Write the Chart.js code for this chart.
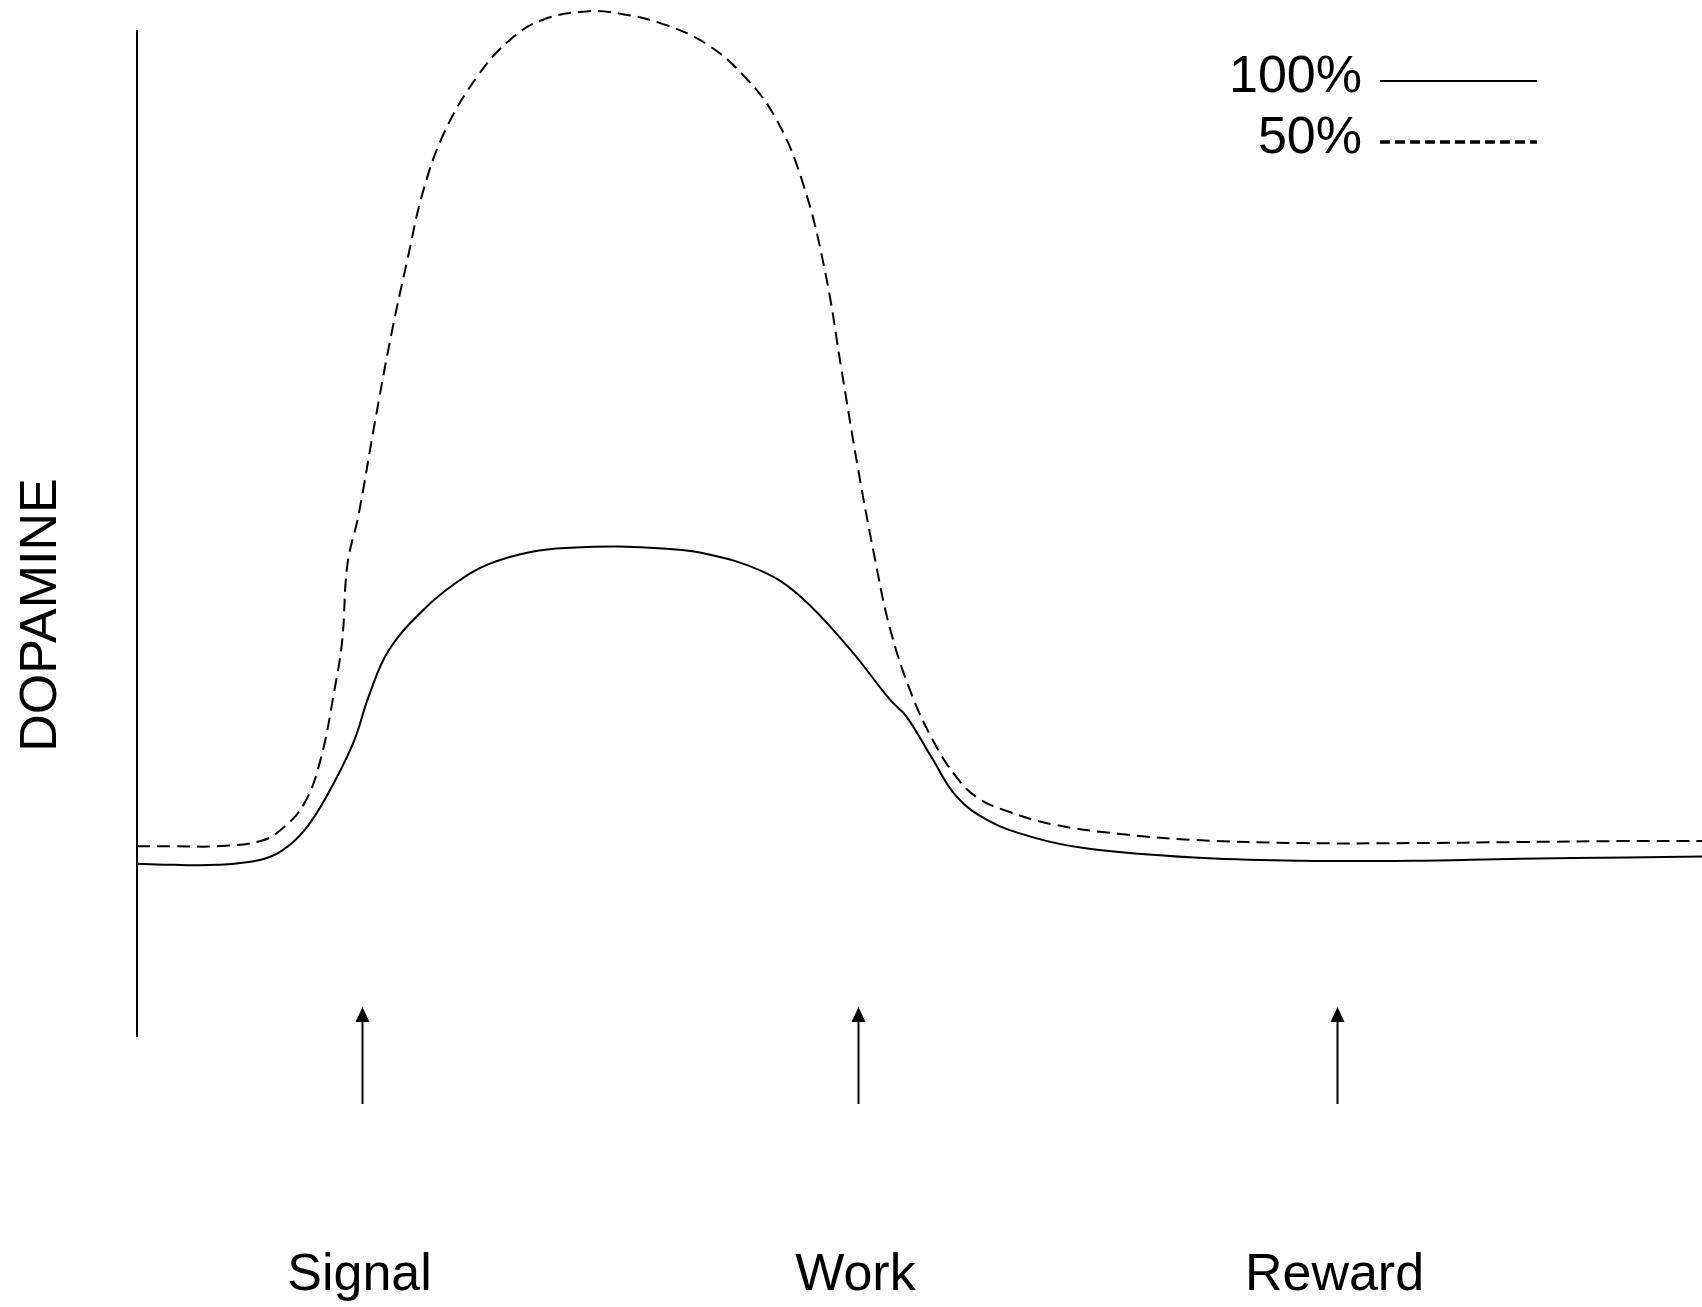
<!DOCTYPE html>
<html>
<head>
<meta charset="utf-8">
<script src="https://cdn.jsdelivr.net/npm/chart.js@4"></script>
<style>
  html, body { margin: 0; padding: 0; background: #fff; }
  #wrap { width: 1702px; height: 1307px; }
</style>
</head>
<body>
<div id="wrap"><canvas id="dopamineChart"></canvas></div>
<script>
// ----------------- data -----------------
const seriesNames = ["100%", "50%"];

// 100% reward probability (solid line)
const solidX = [0, 2.36, 5.13, 7.91, 9.29, 10.68, 12.07, 13.80, 14.84, 16.09, 18.31, 20.39, 22.47,
  25.24, 28.02, 30.79, 33.57, 36.34, 39.81, 42.3, 45.5, 48.13, 49.17, 50.76, 52.36,
  54.37, 57.14, 60.61, 67.55, 74.48, 81.41, 88.35, 95.28, 100];
const solidY = [16.7, 16.6, 16.6, 17.1, 18.0, 19.9, 23.1, 28.3, 33.0, 37.3, 41.2, 43.8, 45.6,
  46.8, 47.2, 47.3, 47.1, 46.6, 45.0, 42.6, 37.5, 32.5, 30.9, 27.0, 23.2,
  20.9, 19.3, 18.2, 17.3, 17.0, 17.0, 17.2, 17.3, 17.4];

// 50% reward probability (dashed line)
const dashX = [0, 2.36, 5.13, 7.91, 9.29, 10.68, 11.72, 12.62, 13.11, 13.45, 14.15, 15.19, 16.23, 17.27,
  18.31, 19.69, 21.78, 23.86, 25.94, 28.71, 30.79, 33.57, 36.34, 38.77, 40.85, 42.58, 43.97, 45.01,
  46.05, 47.09, 48.13, 49.51, 50.90, 52.29, 53.68, 55.76, 58.53, 62.69, 67.55, 74.48, 81.41, 88.35, 95.28, 100];
const dashY = [18.4, 18.4, 18.4, 18.9, 20.1, 22.5, 26.7, 33.5, 38.2, 45.6, 50.3, 59.2, 67.6, 74.9,
  81.7, 87.4, 92.7, 96.2, 98.1, 98.9, 98.7, 97.7, 95.8, 92.7, 88.5, 82.2, 73.8, 64.4,
  55.0, 46.6, 39.3, 33.0, 28.5, 25.2, 23.1, 21.7, 20.5, 19.6, 19.0, 18.7, 18.7, 18.8, 18.9, 18.9];

// events marked by arrows under the axis
const eventLabels = ["Signal", "Work", "Reward"];
const eventX = [14.35, 46.05, 76.7];

const yTitle = "DOPAMINE";

// ----------------- util -----------------
function toPoints(xs, ys) {
  return xs.map((x, i) => ({ x, y: ys[i] }));
}

const FONT = "52px 'Liberation Sans', Arial, sans-serif";

// ----------------- decorations -----------------
const decorPlugin = {
  id: "decor",
  afterDraw(chart) {
    const { ctx, chartArea, scales } = chart;
    ctx.save();
    ctx.strokeStyle = "#000";
    ctx.fillStyle = "#000";

    // vertical axis
    ctx.lineWidth = 2;
    ctx.beginPath();
    ctx.moveTo(chartArea.left, 30);
    ctx.lineTo(chartArea.left, chartArea.bottom);
    ctx.stroke();

    // y title
    ctx.font = FONT;
    ctx.textAlign = "center";
    ctx.textBaseline = "middle";
    ctx.save();
    ctx.translate(42, 615);
    ctx.rotate(-Math.PI / 2);
    ctx.fillText(yTitle, 0, 0);
    ctx.restore();

    // arrows + labels
    eventLabels.forEach((lab, i) => {
      const px = Math.round(scales.x.getPixelForValue(eventX[i])) + 0.5;
      const tip = chartArea.bottom - 30;
      ctx.lineWidth = 2;
      ctx.beginPath();
      ctx.moveTo(px, chartArea.bottom + 67);
      ctx.lineTo(px, tip + 10);
      ctx.stroke();
      ctx.beginPath();
      ctx.moveTo(px, tip);
      ctx.lineTo(px - 7, tip + 15);
      ctx.lineTo(px + 7, tip + 15);
      ctx.closePath();
      ctx.fill();
      ctx.fillText(lab, px - 3, 1276);
    });

    // legend
    const rows = [
      { y: 78, dash: [], width: 2 },
      { y: 139, dash: [10, 5], width: 3.5 },
    ];
    rows.forEach((r, i) => {
      ctx.textAlign = "right";
      ctx.fillText(seriesNames[i], 1362, r.y);
      ctx.lineWidth = r.width;
      ctx.setLineDash(r.dash);
      ctx.beginPath();
      ctx.moveTo(1380, r.y + 3);
      ctx.lineTo(1537, r.y + 3);
      ctx.stroke();
      ctx.setLineDash([]);
    });

    ctx.restore();
  },
};

// ----------------- chart -----------------
new Chart(document.getElementById("dopamineChart"), {
  type: "line",
  data: {
    datasets: [
      {
        label: seriesNames[0],
        data: toPoints(solidX, solidY),
        borderColor: "#000",
        borderWidth: 2,
        pointRadius: 0,
        tension: 0.4,
      },
      {
        label: seriesNames[1],
        data: toPoints(dashX, dashY),
        borderColor: "#000",
        borderWidth: 2,
        borderDash: [13, 7],
        pointRadius: 0,
        tension: 0.4,
      },
    ],
  },
  options: {
    animation: false,
    responsive: true,
    maintainAspectRatio: false,
    layout: { padding: { left: 137, right: 0, top: 0, bottom: 270 } },
    plugins: { legend: { display: false }, tooltip: { enabled: false } },
    scales: {
      x: { type: "linear", min: 0, max: 100, display: false },
      y: { min: 0, max: 100, display: false },
    },
  },
  plugins: [decorPlugin],
});
</script>
</body>
</html>
